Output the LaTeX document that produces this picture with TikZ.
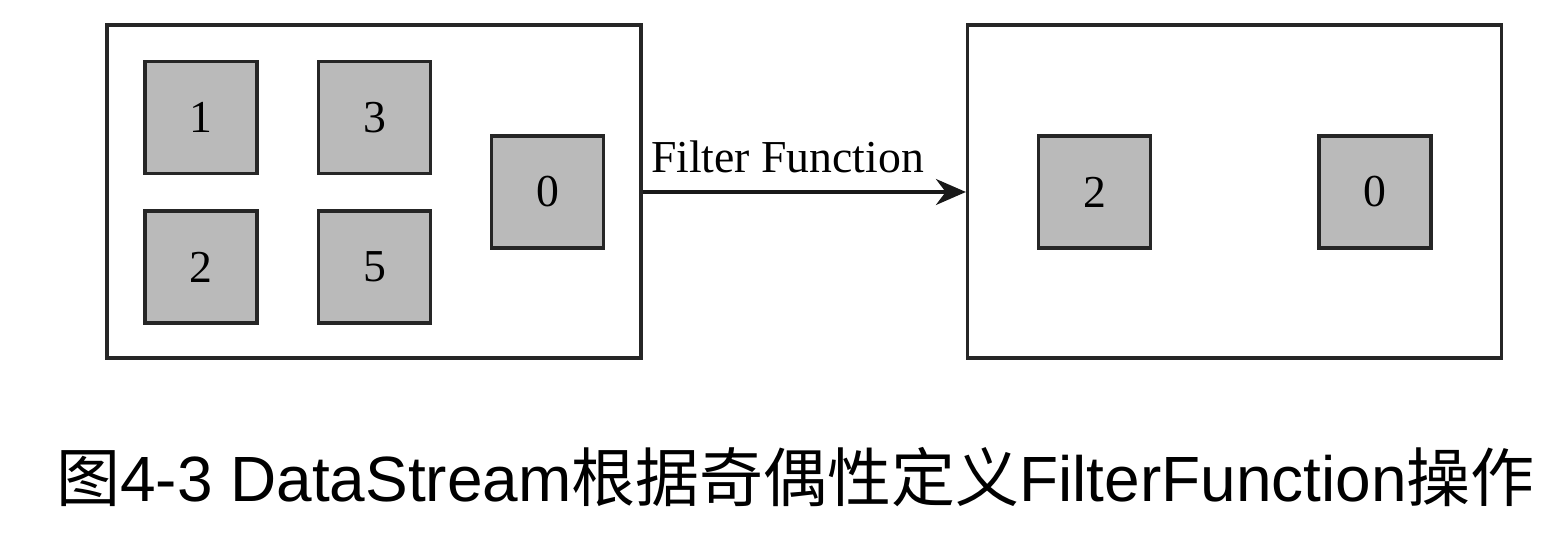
\documentclass[tikz,border=0pt]{standalone}
\usepackage{fontspec}
\setmainfont{Liberation Serif}
\newfontfamily\cjk{Noto Sans CJK SC}
\newfontfamily\capsans{Liberation Sans}
\usetikzlibrary{arrows.meta}

\tikzset{
  stream/.style={draw=black!85, line width=0.9pt, minimum width=5.34cm, minimum height=3.33cm, inner sep=0pt},
  elem/.style={draw=black!85, fill=black!27, line width=0.9pt, minimum size=1.12cm, inner sep=0pt, font=\fontsize{13}{15}\selectfont},
  flow/.style={draw=black!90, line width=0.9pt, -{Stealth[length=0.3cm,width=0.26cm]}}
}

\begin{document}

\begin{tikzpicture}

\useasboundingbox (0,0) rectangle (15.66,5.34);

\node[stream] (in) at (3.74,3.425) {};
\node[stream] (out) at (12.345,3.425) {};

\node[elem] (e1) at (2.01,4.165) {1};
\node[elem] (e3) at (3.745,4.165) {3};
\node[elem] (e2) at (2.01,2.67) {2};
\node[elem] (e5) at (3.745,2.67) {5};
\node[elem] (e0) at (5.475,3.42) {0};

\node[elem] (r2) at (10.945,3.42) {2};
\node[elem] (r0) at (13.75,3.42) {0};

\draw[flow] (in.east |- e0) -- node[pos=0, anchor=south west, inner xsep=0.07cm, inner ysep=0.17cm, font=\fontsize{13}{15}\selectfont] (lbl) {Filter Function} (out.west |- e0);

\node[anchor=base, inner sep=0pt, font=\capsans\fontsize{18.2}{22}\selectfont] (cap) at (7.955,0.32) {{\cjk 图}4-3 DataStream{\cjk 根据奇偶性定义}FilterFunction{\cjk 操作}};

\end{tikzpicture}

\end{document}
